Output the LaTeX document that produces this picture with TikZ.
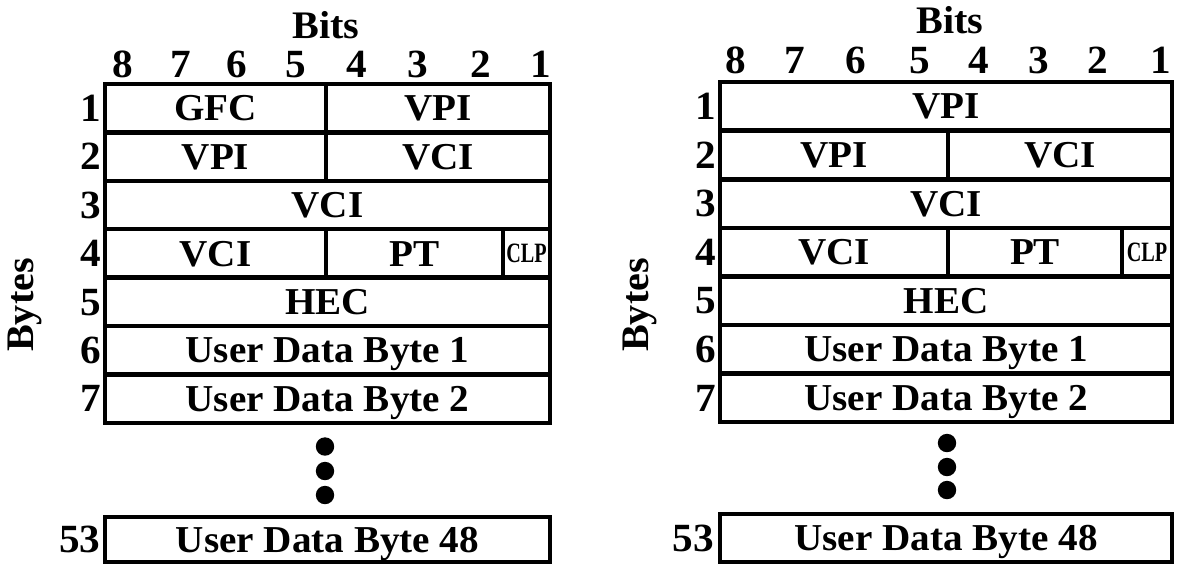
\documentclass[tikz,border=0pt]{standalone}
\usepackage{fontspec}
\setmainfont{Liberation Serif}[FakeStretch=1.03]
\usepackage{graphicx}
\newcommand\clptxt{{\fontsize{14}{14}\selectfont\scalebox{0.7}[1]{CLP}}}
\begin{document}
\begin{tikzpicture}[x=0.5pt,y=-0.5pt,
  cell/.style={draw, line width=2.2pt, inner sep=0pt, minimum height=24.2pt,
    text height=12.6pt, text depth=0pt, font=\fontsize{19}{22}\selectfont\bfseries},
  smallcell/.style={cell, text height=9.3pt},
  bitnum/.style={inner sep=0pt, anchor=base, font=\fontsize{20}{22}\selectfont\bfseries},
  rowlab/.style={inner sep=0pt, anchor=base east, font=\fontsize{20}{22}\selectfont\bfseries},
  title/.style={inner sep=0pt, anchor=base, font=\fontsize{19.5}{22}\selectfont\bfseries},
  axis/.style={inner sep=0pt, rotate=90, font=\fontsize{19.5}{22}\selectfont\bfseries},
  dot/.style={fill=black}]
\useasboundingbox (0,0) rectangle (1179,564);

% ---------------- Left diagram ----------------
\node[title] (LBits) at (326,38) {Bits};
\node[bitnum] (Ld8) at (123,77.5) {8};
\node[bitnum] (Ld7) at (181,77.5) {7};
\node[bitnum] (Ld6) at (237,77.5) {6};
\node[bitnum] (Ld5) at (296,77.5) {5};
\node[bitnum] (Ld4) at (357,77.5) {4};
\node[bitnum] (Ld3) at (418,77.5) {3};
\node[bitnum] (Ld2) at (481,77.5) {2};
\node[bitnum] (Ld1) at (541,77.5) {1};

\node[cell, minimum width=110.5pt] (L1a) at (215.5,108.2) {GFC};
\node[cell, minimum width=112pt] (L1b) at (438,108.2) {VPI};
\node[cell, minimum width=110.5pt] (L2a) at (215.5,156.6) {VPI};
\node[cell, minimum width=112pt] (L2b) at (438,156.6) {VCI};
\node[cell, minimum width=222.5pt] (L3) at (327.5,205) {VCI};
\node[cell, minimum width=110.5pt] (L4a) at (215.5,253.4) {VCI};
\node[cell, minimum width=88.5pt] (L4b) at (414.5,253.4) {PT};
\node[smallcell, minimum width=23.5pt] (L4c) at (526.5,253.4) {\clptxt};
\node[cell, minimum width=222.5pt] (L5) at (327.5,301.8) {HEC};
\node[cell, minimum width=222.5pt] (L6) at (327.5,350.2) {User Data Byte 1};
\node[cell, minimum width=222.5pt] (L7) at (327.5,398.6) {User Data Byte 2};
\node[cell, minimum width=222.5pt, minimum height=22.5pt] (L53) at (327.5,539.5) {User Data Byte 48};

\node[rowlab] (Lr1) at (101,121.5) {1};
\node[rowlab] (Lr2) at (101,169.9) {2};
\node[rowlab] (Lr3) at (101,218.3) {3};
\node[rowlab] (Lr4) at (101,266.7) {4};
\node[rowlab] (Lr5) at (101,315.1) {5};
\node[rowlab] (Lr6) at (101,363.5) {6};
\node[rowlab] (Lr7) at (101,411.9) {7};
\node[rowlab] (Lr53) at (101,552.5) {53};

\node[axis] (LBytes) at (25,305) {Bytes};

\fill[dot] (325,446.5) circle[radius=4.6pt];
\fill[dot] (325,471) circle[radius=4.6pt];
\fill[dot] (325,495) circle[radius=4.6pt];

% ---------------- Right diagram ----------------
\node[title] (RBits) at (950,33) {Bits};
\node[bitnum] (Rd8) at (736,73.5) {8};
\node[bitnum] (Rd7) at (795,73.5) {7};
\node[bitnum] (Rd6) at (856,73.5) {6};
\node[bitnum] (Rd5) at (920,73.5) {5};
\node[bitnum] (Rd4) at (979,73.5) {4};
\node[bitnum] (Rd3) at (1039,73.5) {3};
\node[bitnum] (Rd2) at (1098,73.5) {2};
\node[bitnum] (Rd1) at (1161,73.5) {1};

\node[cell, minimum width=226pt] (R1) at (946,106.3) {VPI};
\node[cell, minimum width=114pt] (R2a) at (834,154.9) {VPI};
\node[cell, minimum width=112pt] (R2b) at (1060,154.9) {VCI};
\node[cell, minimum width=226pt] (R3) at (946,203.5) {VCI};
\node[cell, minimum width=114pt] (R4a) at (834,252.1) {VCI};
\node[cell, minimum width=87pt] (R4b) at (1035,252.1) {PT};
\node[smallcell, minimum width=25pt] (R4c) at (1147,252.1) {\clptxt};
\node[cell, minimum width=226pt] (R5) at (946,300.7) {HEC};
\node[cell, minimum width=226pt] (R6) at (946,349.3) {User Data Byte 1};
\node[cell, minimum width=226pt] (R7) at (946,397.9) {User Data Byte 2};
\node[cell, minimum width=226pt, minimum height=24pt] (R53) at (946,538) {User Data Byte 48};

\node[rowlab] (Rr1) at (716,119.5) {1};
\node[rowlab] (Rr2) at (716,168.1) {2};
\node[rowlab] (Rr3) at (716,216.7) {3};
\node[rowlab] (Rr4) at (716,265.3) {4};
\node[rowlab] (Rr5) at (716,313.9) {5};
\node[rowlab] (Rr6) at (716,362.5) {6};
\node[rowlab] (Rr7) at (716,411.1) {7};
\node[rowlab] (Rr53) at (714,551) {53};

\node[axis] (RBytes) at (640,305) {Bytes};

\fill[dot] (947,443) circle[radius=4.6pt];
\fill[dot] (947,467) circle[radius=4.6pt];
\fill[dot] (947,490) circle[radius=4.6pt];
\end{tikzpicture}
\end{document}
